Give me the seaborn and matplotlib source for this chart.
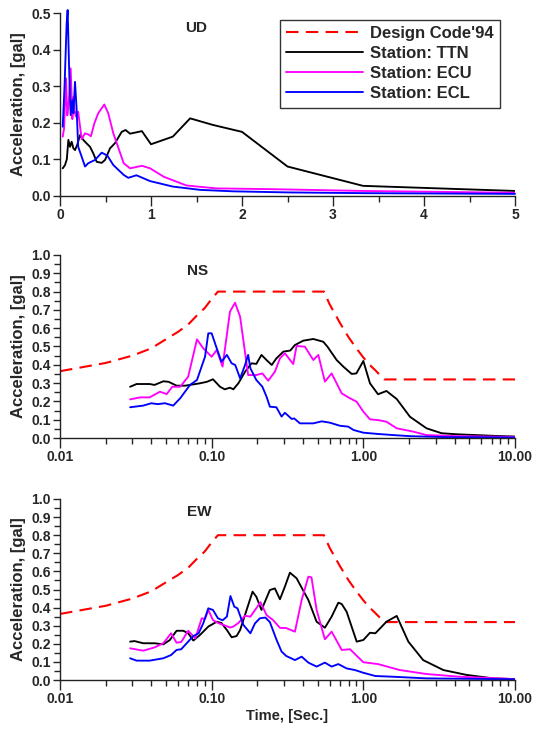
import numpy as np
import pandas as pd
import matplotlib
matplotlib.use("Agg")
import matplotlib.pyplot as plt
from matplotlib.ticker import MultipleLocator, LogLocator, FixedLocator, FuncFormatter, NullFormatter
from matplotlib.lines import Line2D
import seaborn as sns

# ---------------- data ----------------
# Design code spectrum (period, acceleration)
DC_T = [0.01, 0.02, 0.03, 0.04, 0.05, 0.06, 0.07, 0.08, 0.09, 0.10, 0.11,
        0.55, 0.60, 0.70, 0.80, 0.90, 1.00, 1.10, 1.20, 1.30, 1.375, 10.0]
DC_A = [0.365, 0.41, 0.45, 0.49, 0.54, 0.58, 0.62, 0.67, 0.71, 0.76, 0.80,
        0.80, 0.73, 0.63, 0.55, 0.49, 0.44, 0.40, 0.37, 0.34, 0.32, 0.32]

# UD component (linear time axis)
TTN_UD_T = [0.03, 0.055, 0.075, 0.092, 0.11, 0.128, 0.147, 0.165, 0.19, 0.22, 0.256, 0.29, 0.33,
            0.366, 0.403, 0.458, 0.495, 0.55, 0.604, 0.678, 0.72, 0.77, 0.90, 1.00, 1.24, 1.43,
            1.68, 2.00, 2.50, 3.33, 5.00]
TTN_UD_A = [0.075, 0.084, 0.10, 0.153, 0.134, 0.148, 0.13, 0.125, 0.14, 0.166, 0.153, 0.144, 0.134,
            0.116, 0.093, 0.09, 0.098, 0.13, 0.144, 0.175, 0.18, 0.17, 0.177, 0.141, 0.162, 0.212,
            0.194, 0.175, 0.08, 0.027, 0.013]
ECU_UD_T = [0.03, 0.045, 0.066, 0.08, 0.095, 0.117, 0.136, 0.147, 0.157, 0.176, 0.2, 0.238, 0.275,
            0.31, 0.34, 0.377, 0.42, 0.487, 0.53, 0.586, 0.70, 0.77, 0.90, 0.99, 1.14, 1.39, 1.72,
            2.31, 3.33, 5.0]
ECU_UD_A = [0.162, 0.185, 0.322, 0.22, 0.25, 0.349, 0.21, 0.27, 0.235, 0.217, 0.23, 0.155, 0.171,
            0.168, 0.163, 0.198, 0.226, 0.25, 0.226, 0.171, 0.089, 0.075, 0.082, 0.075, 0.052, 0.028,
            0.02, 0.018, 0.013, 0.008]
ECL_UD_T = [0.03, 0.05, 0.073, 0.084, 0.10, 0.117, 0.136, 0.147, 0.165, 0.183, 0.2, 0.238, 0.275,
            0.31, 0.385, 0.458, 0.52, 0.586, 0.70, 0.75, 0.84, 0.99, 1.24, 1.54, 1.9, 2.5, 3.33, 5.0]
ECL_UD_A = [0.189, 0.30, 0.472, 0.509, 0.35, 0.221, 0.262, 0.226, 0.312, 0.235, 0.134, 0.107, 0.08,
            0.089, 0.098, 0.118, 0.11, 0.084, 0.057, 0.049, 0.056, 0.04, 0.025, 0.016, 0.012, 0.009,
            0.007, 0.005]

# NS component (log time axis)
TTN_NS_T = [0.029, 0.032, 0.039, 0.042, 0.048, 0.052, 0.0587, 0.067, 0.0838, 0.093, 0.102, 0.1135,
            0.122, 0.132, 0.139, 0.15, 0.166, 0.183, 0.197, 0.213, 0.23, 0.249, 0.267, 0.297, 0.33,
            0.354, 0.402, 0.468, 0.544, 0.58, 0.667, 0.738, 0.838, 0.9, 1.0, 1.106, 1.25, 1.42, 1.66,
            2.03, 2.61, 3.28, 4.2, 7.17, 10.0]
TTN_NS_A = [0.28, 0.295, 0.295, 0.29, 0.31, 0.307, 0.286, 0.286, 0.299, 0.307, 0.321, 0.28,
            0.266, 0.275, 0.266, 0.299, 0.362, 0.408, 0.405, 0.454, 0.426, 0.399, 0.435, 0.472, 0.478,
            0.508, 0.532, 0.541, 0.526, 0.499, 0.426, 0.39, 0.35, 0.353, 0.421, 0.299, 0.239, 0.257,
            0.213, 0.116, 0.053, 0.026, 0.02, 0.012, 0.008]
ECU_NS_T = [0.029, 0.0337, 0.039, 0.0456, 0.0505, 0.055, 0.062, 0.07, 0.08, 0.088, 0.1, 0.108, 0.118,
            0.132, 0.1426, 0.154, 0.174, 0.197, 0.216, 0.236, 0.261, 0.282, 0.304, 0.345, 0.363,
            0.412, 0.468, 0.505, 0.558, 0.618, 0.72, 0.796, 0.904, 1.0, 1.106, 1.25, 1.42, 1.66, 2.13,
            2.61, 4.2, 10.0]
ECU_NS_A = [0.211, 0.222, 0.222, 0.253, 0.24, 0.28, 0.28, 0.335, 0.539, 0.49, 0.444, 0.481, 0.39,
            0.69, 0.739, 0.663, 0.344, 0.344, 0.353, 0.313, 0.362, 0.435, 0.463, 0.404, 0.503,
            0.499, 0.426, 0.454, 0.308, 0.353, 0.244, 0.222, 0.198, 0.144, 0.102, 0.098, 0.089,
            0.053, 0.035, 0.016, 0.01, 0.006]
ECL_NS_T = [0.029, 0.0354, 0.04, 0.044, 0.0492, 0.0558, 0.062, 0.072, 0.08, 0.0904, 0.095, 0.1, 0.108,
            0.116, 0.126, 0.1355, 0.143, 0.154, 0.166, 0.174, 0.18, 0.197, 0.216, 0.23, 0.242, 0.267,
            0.289, 0.304, 0.337, 0.35, 0.382, 0.468, 0.531, 0.6, 0.7, 0.796, 0.86, 1.0, 1.25, 1.575,
            2.03, 3.4, 10.0]
ECL_NS_A = [0.168, 0.177, 0.19, 0.185, 0.19, 0.177, 0.217, 0.29, 0.317, 0.444, 0.572, 0.572, 0.49,
            0.417, 0.454, 0.408, 0.399, 0.326, 0.399, 0.454, 0.381, 0.317, 0.28, 0.226, 0.171, 0.168,
            0.117, 0.138, 0.104, 0.107, 0.08, 0.08, 0.091, 0.084, 0.067, 0.062, 0.044, 0.029, 0.022,
            0.016, 0.01, 0.005, 0.003]

# EW component (log time axis)
TTN_EW_T = [0.029, 0.031, 0.0354, 0.042, 0.048, 0.053, 0.0587, 0.065, 0.07, 0.0757, 0.0838, 0.095,
            0.108, 0.116, 0.126, 0.1355, 0.146, 0.154, 0.17, 0.186, 0.197, 0.213, 0.242, 0.261, 0.282,
            0.304, 0.328, 0.363, 0.434, 0.492, 0.558, 0.618, 0.684, 0.72, 0.776, 0.904, 1.0, 1.106,
            1.2, 1.42, 1.66, 1.98, 2.48, 3.37, 4.8, 7.2, 10.0]
TTN_EW_A = [0.212, 0.215, 0.203, 0.203, 0.197, 0.221, 0.272, 0.272, 0.258, 0.218, 0.249, 0.295,
            0.322, 0.315, 0.276, 0.236, 0.243, 0.276, 0.387, 0.488, 0.46, 0.387, 0.497, 0.506, 0.446,
            0.516, 0.593, 0.562, 0.442, 0.322, 0.289, 0.35, 0.427, 0.42, 0.377, 0.212, 0.221, 0.261,
            0.258, 0.322, 0.354, 0.212, 0.11, 0.055, 0.028, 0.009, 0.005]
ECU_EW_T = [0.029, 0.0354, 0.042, 0.048, 0.054, 0.0587, 0.063, 0.07, 0.078, 0.086, 0.0904, 0.095,
            0.102, 0.11, 0.12, 0.132, 0.139, 0.15, 0.166, 0.18, 0.21, 0.23, 0.254, 0.282, 0.31, 0.354,
            0.392, 0.434, 0.455, 0.492, 0.558, 0.618, 0.72, 0.817, 1.0, 1.25, 1.74, 2.61, 4.33, 10.0]
ECU_EW_A = [0.175, 0.162, 0.18, 0.203, 0.258, 0.206, 0.21, 0.272, 0.23, 0.341, 0.337, 0.387,
            0.331, 0.315, 0.304, 0.29, 0.295, 0.315, 0.355, 0.35, 0.43, 0.359, 0.331, 0.288, 0.287,
            0.267, 0.442, 0.571, 0.567, 0.387, 0.225, 0.267, 0.166, 0.17, 0.098, 0.088, 0.055, 0.033,
            0.018, 0.005]
ECL_EW_T = [0.029, 0.032, 0.039, 0.048, 0.054, 0.0587, 0.063, 0.07, 0.0757, 0.082, 0.088, 0.095, 0.102,
            0.11, 0.118, 0.126, 0.133, 0.141, 0.148, 0.162, 0.18, 0.193, 0.208, 0.226, 0.242, 0.268,
            0.289, 0.31, 0.354, 0.392, 0.434, 0.492, 0.558, 0.618, 0.684, 0.776, 0.88, 1.0, 1.2,
            1.575, 2.61, 10.0]
ECL_EW_A = [0.12, 0.107, 0.107, 0.12, 0.138, 0.166, 0.17, 0.212, 0.243, 0.258, 0.313, 0.396, 0.387,
            0.341, 0.33, 0.35, 0.464, 0.405, 0.396, 0.304, 0.258, 0.313, 0.341, 0.345, 0.32, 0.221,
            0.157, 0.133, 0.11, 0.129, 0.096, 0.074, 0.096, 0.074, 0.088, 0.064, 0.055, 0.04, 0.022,
            0.018, 0.009, 0.004]

SERIES = ["Design Code'94", "Station: TTN", "Station: ECU", "Station: ECL"]
PANELS = ["UD", "NS", "EW"]
LOG_TICKS = [0.01, 0.1, 1.0, 10.0]
UD_XTICKS = [0, 1, 2, 3, 4, 5]

# ---------------- style ----------------
sns.set_style("ticks")
plt.rcParams["font.family"] = ["Liberation Sans", "DejaVu Sans"]
plt.rcParams["font.weight"] = "bold"
plt.rcParams["axes.labelweight"] = "bold"
plt.rcParams["axes.linewidth"] = 1.0
plt.rcParams["axes.edgecolor"] = "#222222"

COLORS = {"Design Code'94": "#ff0000", "Station: TTN": "#000000",
          "Station: ECU": "#ff00ff", "Station: ECL": "#0000ff"}
DASH = (0, (6, 3.5))

fig = plt.figure(figsize=(5.34, 7.31), dpi=100)
left, width = 60 / 534, 455 / 534
ax_ud = fig.add_axes([left, 1 - 195.7 / 731, width, 182.4 / 731])
ax_ns = fig.add_axes([left, 1 - 438 / 731, width, 183 / 731])
ax_ew = fig.add_axes([left, 1 - 680 / 731, width, 181 / 731])

LW = 1.35


def draw(ax, t, a, name, lw=LW, **kw):
    df = pd.DataFrame({"t": t, "a": a})
    sns.lineplot(data=df, x="t", y="a", ax=ax, color=COLORS[name], lw=lw,
                 estimator=None, sort=False, label=name, **kw)


# UD
draw(ax_ud, TTN_UD_T, TTN_UD_A, "Station: TTN")
draw(ax_ud, ECU_UD_T, ECU_UD_A, "Station: ECU")
draw(ax_ud, ECL_UD_T, ECL_UD_A, "Station: ECL", clip_on=False)

# NS
draw(ax_ns, DC_T, DC_A, "Design Code'94", lw=1.5, linestyle=DASH)
draw(ax_ns, TTN_NS_T, TTN_NS_A, "Station: TTN")
draw(ax_ns, ECU_NS_T, ECU_NS_A, "Station: ECU")
draw(ax_ns, ECL_NS_T, ECL_NS_A, "Station: ECL")

# EW
draw(ax_ew, DC_T, DC_A, "Design Code'94", lw=1.5, linestyle=DASH)
draw(ax_ew, TTN_EW_T, TTN_EW_A, "Station: TTN")
draw(ax_ew, ECU_EW_T, ECU_EW_A, "Station: ECU")
draw(ax_ew, ECL_EW_T, ECL_EW_A, "Station: ECL")

for ax in (ax_ud, ax_ns, ax_ew):
    if ax.get_legend() is not None:
        ax.get_legend().remove()
    sns.despine(ax=ax)
    ax.set_xlabel("")
    ax.set_ylabel("Acceleration, [gal]", fontsize=12, fontweight="bold", labelpad=4)
    ax.tick_params(axis="both", which="major", direction="out", length=5, width=1,
                   labelsize=10, pad=1.5)
    ax.tick_params(axis="both", which="minor", direction="out", length=3, width=1)

# UD axes
ax_ud.set_xlim(0, 5)
ax_ud.set_ylim(0, 0.5)
ax_ud.xaxis.set_major_locator(FixedLocator(UD_XTICKS))
ax_ud.xaxis.set_minor_locator(MultipleLocator(0.5))
ax_ud.xaxis.set_major_formatter(FuncFormatter(lambda v, p: f"{v:.0f}"))
ax_ud.yaxis.set_major_locator(MultipleLocator(0.1))
ax_ud.yaxis.set_major_formatter(FuncFormatter(lambda v, p: f"{v:.1f}"))
ax_ud.tick_params(axis="x", which="major", length=7)
ax_ud.tick_params(axis="x", which="minor", length=4)

for ax in (ax_ns, ax_ew):
    ax.set_xscale("log")
    ax.set_xlim(0.01, 10)
    ax.set_ylim(0, 1.0)
    ax.xaxis.set_major_locator(FixedLocator(LOG_TICKS))
    ax.xaxis.set_minor_locator(LogLocator(base=10, subs=np.arange(2, 10), numticks=20))
    ax.xaxis.set_major_formatter(FuncFormatter(lambda v, p: f"{v:.2f}"))
    ax.xaxis.set_minor_formatter(NullFormatter())
    ax.yaxis.set_major_locator(MultipleLocator(0.1))
    ax.yaxis.set_minor_locator(MultipleLocator(0.05))
    ax.yaxis.set_major_formatter(FuncFormatter(lambda v, p: f"{v:.1f}"))
    ax.tick_params(axis="x", which="major", length=7)
    ax.tick_params(axis="x", which="minor", length=4)
    ax.tick_params(axis="y", which="minor", length=4)

for ax in (ax_ud, ax_ns, ax_ew):
    for lab in ax.get_xticklabels() + ax.get_yticklabels():
        lab.set_fontweight("bold")

ax_ew.set_xlabel("Time, [Sec.]", fontsize=10.5, fontweight="bold", labelpad=2)

# Panel titles
ax_ud.text(0.299, 0.919, "UD", transform=ax_ud.transAxes, ha="center", va="center",
           fontsize=11, fontweight="bold")
ax_ns.text(0.302, 0.913, "NS", transform=ax_ns.transAxes, ha="center", va="center",
           fontsize=11, fontweight="bold")
ax_ew.text(0.305, 0.928, "EW", transform=ax_ew.transAxes, ha="center", va="center",
           fontsize=11, fontweight="bold")

# Legend
handles = [Line2D([0], [0], color=COLORS[s], lw=1.5 if s == "Design Code'94" else LW,
                  linestyle=DASH if s == "Design Code'94" else "-") for s in SERIES]
leg = ax_ud.legend(handles, SERIES, loc="upper right", bbox_to_anchor=(0.966, 0.964),
                   borderaxespad=0, frameon=True, fancybox=False, edgecolor="#333333",
                   framealpha=1, fontsize=12, handlelength=4.6, handletextpad=0.4,
                   labelspacing=0.3, borderpad=0.38)
leg.get_frame().set_linewidth(1.0)
for t in leg.get_texts():
    t.set_fontweight("bold")

fig.savefig("out.png", dpi=100)
